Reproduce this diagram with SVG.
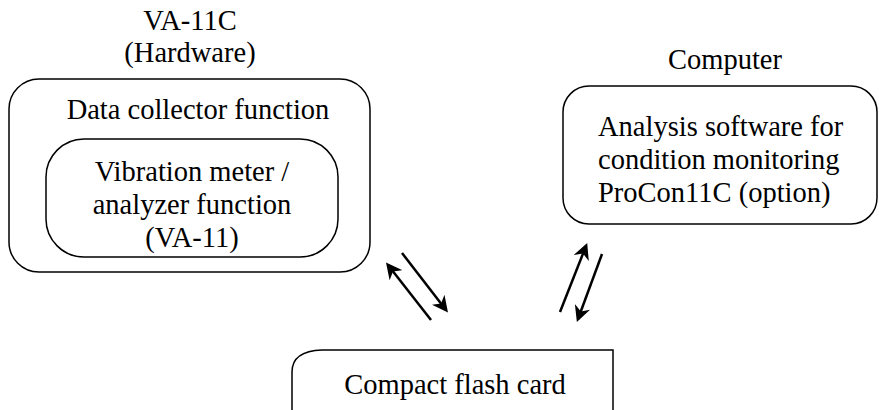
<svg xmlns="http://www.w3.org/2000/svg" width="879" height="410" viewBox="0 0 879 410">
<style>
text{font-family:'Liberation Serif','Times New Roman',serif;font-size:28.5px;fill:#000}
.box{fill:none;stroke:#000;stroke-width:1.5}
.c{text-anchor:middle}
.arr{stroke:#000;stroke-width:2.5;fill:none;marker-end:url(#ah)}
</style>
<defs>
<marker id="ah" viewBox="0 0 10 10" refX="8" refY="5" markerWidth="6.5" markerHeight="6.5" orient="auto" markerUnits="strokeWidth">
<path d="M0,0 L10,5 L0,10 L3,5 Z" fill="#000"/>
</marker>
</defs>
<rect width="879" height="410" fill="#fff"/>
<g id="va11c">
<text class="c" x="190" y="30">VA-11C</text>
<text class="c" x="190" y="62">(Hardware)</text>
<rect class="box" x="9" y="79" width="361" height="193" rx="30"/>
<text class="c" x="198" y="119">Data collector function</text>
</g>
<g id="va11">
<rect class="box" x="46" y="139" width="292" height="118" rx="38"/>
<text class="c" x="192" y="181">Vibration meter /</text>
<text class="c" x="192" y="214">analyzer function</text>
<text class="c" x="192" y="247">(VA-11)</text>
</g>
<g id="computer">
<text class="c" x="725" y="69">Computer</text>
<rect class="box" x="563" y="86" width="314" height="138" rx="26"/>
<text x="598" y="136">Analysis software for</text>
<text x="598" y="169">condition monitoring</text>
<text x="598" y="202">ProCon11C (option)</text>
</g>
<g id="cf">
<path class="box" d="M292,412 L292,372 Q292,351 322,350 L613,350 L613,412"/>
<text class="c" x="455" y="394">Compact flash card</text>
</g>
<g id="connectors">
<line class="arr" x1="431" y1="320" x2="388" y2="265"/>
<line class="arr" x1="402" y1="253" x2="446" y2="310"/>
<line class="arr" x1="560" y1="312" x2="586" y2="246"/>
<line class="arr" x1="602" y1="254" x2="578" y2="319"/>
</g>
</svg>
